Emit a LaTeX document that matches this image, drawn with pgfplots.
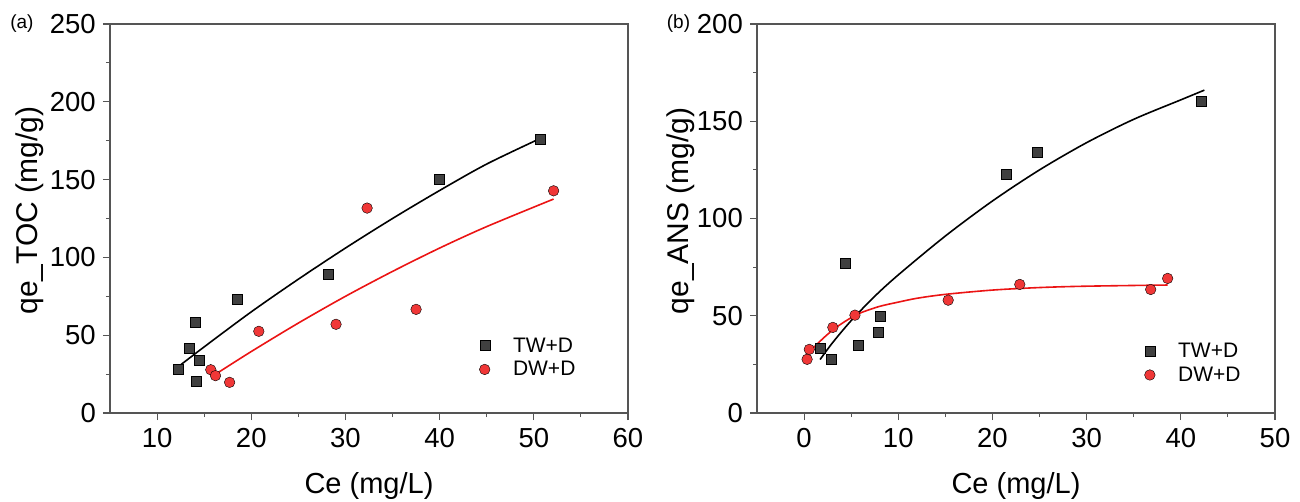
\documentclass[border=0pt]{standalone}
\usepackage{fontspec}
\setmainfont{Liberation Sans}
\usepackage{pgfplots}
\pgfplotsset{compat=1.18}
\definecolor{sq}{RGB}{64,64,64}
\definecolor{rd}{RGB}{240,55,55}
\definecolor{fitred}{RGB}{235,20,20}
\definecolor{ax}{RGB}{85,85,85}
\pgfplotsset{
  myaxis/.style={
    scale only axis, width=518bp, height=389bp,
    axis line style={ax, line width=1.1bp},
    tick style={ax, line width=1.1bp},
    tick align=outside, tick pos=left,
    major tick length=7bp, minor tick length=4bp,
    minor tick num=1,
    tick label style={font=\fontsize{27.5bp}{32bp}\selectfont},
    yticklabel style={inner sep=7bp},
    xticklabel style={inner sep=8bp},
    /pgf/number format/assume math mode=true,
    xlabel style={font=\fontsize{29bp}{34bp}\selectfont, at={(axis description cs:0.5,-0.2082)}, anchor=base},
    ylabel style={font=\fontsize{30bp}{34bp}\selectfont, anchor=base},
    legend style={draw=none, fill=none, font=\fontsize{21bp}{25bp}\selectfont, row sep=4bp,
      /tikz/every odd column/.style={column sep=21bp}},
    legend cell align=left,
  },
  sqmark/.style={only marks, mark=square*, mark size=5bp, mark options={draw=none, fill=sq}},
  rdmark/.style={only marks, mark=*, mark size=5.3bp, mark options={draw=none, fill=rd}},
}
\begin{document}
\begin{tikzpicture}
\useasboundingbox (-110bp,-89bp) rectangle (1190bp,413bp);
% ---------------- (a) ----------------
\begin{axis}[myaxis,
  xmin=5, xmax=60, ymin=0, ymax=250,
  xtick={10,20,...,60}, ytick={0,50,...,250},
  xlabel={Ce (mg/L)}, ylabel={qe\_TOC (mg/g)},
  ylabel style={at={(axis description cs:-0.139,0.52)}},
  legend style={at={(axis description cs:0.707,0.1427)}, anchor=west},
  extra description/.code={\node[font=\fontsize{19bp}{22bp}\selectfont] at (-0.170,1) {(a)};},
]
\addplot[sqmark] coordinates {(12.2,28.3)(13.4,41.8)(14.0,58.5)(14.5,33.8)(14.1,20.3)(18.5,73.0)(28.2,89.5)(40.0,150.3)(50.7,176.0)};
\addlegendentry{TW+D}
\addplot[rdmark] coordinates {(15.7,27.8)(16.2,24.0)(17.7,19.7)(20.8,52.5)(29.0,57.0)(32.3,131.7)(37.5,66.6)(52.1,142.8)};
\addlegendentry{DW+D}
\addplot[black, line width=1.6bp, smooth, forget plot] coordinates {(12.3,30)(15,42.5)(20,65)(25,86)(30,106)(35,125)(40,143)(45,160)(50.7,176.5)};
\addplot[fitred, line width=1.6bp, smooth, forget plot] coordinates {(16.1,24.5)(20,39.5)(25,57.8)(30,75.0)(35,91.0)(40,106.0)(45,119.8)(52.1,137.5)};
\end{axis}
% ---------------- (b) ----------------
\begin{axis}[myaxis, at={(647bp,0)}, anchor=south west,
  xmin=-5, xmax=50, ymin=0, ymax=200,
  xtick={0,10,...,50}, ytick={0,50,...,200},
  xlabel={Ce (mg/L)}, ylabel={qe\_ANS (mg/g)},
  ylabel style={at={(axis description cs:-0.133,0.52)}},
  legend style={at={(axis description cs:0.742,0.1285)}, anchor=west},
  extra description/.code={\node[font=\fontsize{19bp}{22bp}\selectfont] at (-0.1515,1) {(b)};},
]
\addplot[sqmark] coordinates {(1.7,33.2)(2.9,27.6)(4.4,76.9)(5.7,34.9)(7.9,41.8)(8.05,50.0)(21.5,122.8)(24.8,134.2)(42.2,160.4)};
\addlegendentry{TW+D}
\addplot[rdmark] coordinates {(0.32,27.6)(0.55,32.7)(3.05,44.0)(5.4,50.3)(15.3,58.0)(22.9,66.1)(36.8,63.5)(38.6,69.2)};
\addlegendentry{DW+D}
\addplot[black, line width=1.6bp, smooth, forget plot] coordinates {(1.7,27.5)(3,36)(5,47.5)(7.5,60)(10,71)(15,91)(20,109)(25,125)(30,139)(35,151)(40,161)(42.5,166)};
\addplot[fitred, line width=1.6bp, smooth, forget plot] coordinates {(0.2,29.5)(1,33.5)(2,38.3)(3,42.5)(4,46)(5,49)(6,51.5)(8,54.8)(10,57)(12,59)(15,61)(20,63.2)(25,64.5)(30,65.2)(38.6,65.8)};
\end{axis}
\end{tikzpicture}
\end{document}
